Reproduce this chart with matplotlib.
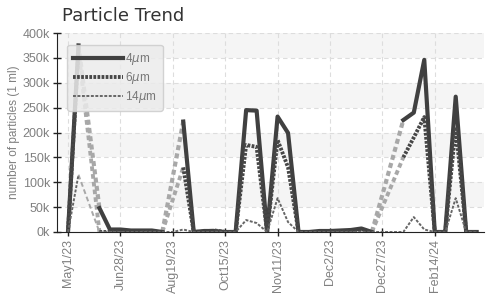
import numpy as np
import matplotlib.pyplot as plt

# values in thousands of particles per ml, None = no reading (drawn as gray dashed bridge)
labels = ['May1/23', 'Jun28/23', 'Aug19/23', 'Oct15/23', 'Nov11/23', 'Dec2/23', 'Dec27/23', 'Feb14/24']
p4 = [0, 375, None, 48, 5, 5, 3, 3, 3, 0, None, 222, 0, 2, 2, 0, 0, 245, 244, 0,
      232, 199, 0, 0, 2, 2, 3, 4, 7, 0, None, None, 225, 240, 346, 0, 0, 272, 0, 0]
p6 = [0, 365, None, 0, 0, 0, None, 0, 0, 0, None, 130, 0, None, 3, 0, 0, 175, 171, 0,
      185, 130, 0, None, None, 0, 0, 0, 0, 0, None, None, 150, 190, 231, 0, 0, 211, 0, 0]
p14 = [0, 115, None, 0, 0, 0, 0, 0, 0, 0, 0, 5, 0, 0, 0, 0, 0, 24, 18, 0,
       68, 20, 0, 0, 0, 0, 0, 0, 0, 0, 0, 0, 0, 30, 5, 0, 0, 68, 0, 0]

plt.rcParams['font.family'] = ['Liberation Sans', 'DejaVu Sans']

fig = plt.figure(figsize=(4.87, 2.96), dpi=100)
ax = fig.add_axes([57 / 487, 1 - 232 / 296, 427 / 487, 199 / 296])


def to_arr(v):
    return np.array([np.nan if a is None else a * 1000 for a in v], dtype=float)


def bridges(ax, y, **kw):
    # connect the points on either side of every gap
    i = 0
    while i < len(y):
        if np.isnan(y[i]):
            j = i
            while j < len(y) and np.isnan(y[j]):
                j += 1
            ax.plot([i - 1, j], [y[i - 1], y[j]], **kw)
            i = j
        else:
            i += 1


series = [
    ('4$\\mu$m', to_arr(p4), dict(color='#404040', lw=3.0, ls='-'), dict(lw=3.0, ls=(0, (1.2, 0.8)))),
    ('6$\\mu$m', to_arr(p6), dict(color='#474747', lw=2.8, ls=(0, (0.7, 0.35))), dict(lw=2.8, ls=(0, (1.2, 0.8)))),
    ('14$\\mu$m', to_arr(p14), dict(color='#666666', lw=1.4, ls=(0, (1.5, 0.8))), dict(lw=1.4, ls=(0, (2.5, 1.5)))),
]

# alternating horizontal bands
for k in range(8):
    if k % 2 == 1:
        ax.axhspan(k * 50000, (k + 1) * 50000, color='#f5f5f5', zorder=0, lw=0)

for name, y, st, gst in series:
    bridges(ax, y, color='#a8a8a8', zorder=2, **gst)
for name, y, st, gst in series:
    ax.plot(np.arange(len(y)), y, label=name, zorder=3, **st)

ticks = np.arange(0, 5 * len(labels), 5)
ax.set_xlim(-1.05, 39.7)
ax.set_ylim(0, 400000)
ax.set_xticks(ticks)
ax.set_xticklabels(labels, rotation=90, fontsize=9)
yt = np.arange(0, 400001, 50000)
ax.set_yticks(yt)
ax.set_yticklabels(['%dk' % (v // 1000) for v in yt], fontsize=9)
ax.tick_params(direction='inout', length=6, width=1, colors='#222222', pad=2)
for lab in ax.get_xticklabels() + ax.get_yticklabels():
    lab.set_color('#808080')

ax.grid(True, color='#dddddd', ls=(0, (4, 3)), lw=0.8, zorder=1)
ax.set_axisbelow(True)
for s in ['top', 'right']:
    ax.spines[s].set_visible(False)
ax.spines['left'].set_color('#222222')
ax.spines['bottom'].set_color('#222222')

ax.set_ylabel('number of particles (1 ml)', color='#808080', fontsize=8.5, labelpad=2)
fig.text(62 / 487, 1 - 16 / 296, 'Particle Trend', fontsize=13, color='#333333',
         family='DejaVu Sans', va='center')

leg = ax.legend(loc='upper left', bbox_to_anchor=(0.01, 0.97), fontsize=8.5, handlelength=4.2,
                labelspacing=0.25, borderpad=0.5, handletextpad=0.2, frameon=True, fancybox=True,
                facecolor='#ebebeb', edgecolor='#cccccc', framealpha=0.85)
for t in leg.get_texts():
    t.set_color('#777777')

fig.savefig('out.png', dpi=100)
